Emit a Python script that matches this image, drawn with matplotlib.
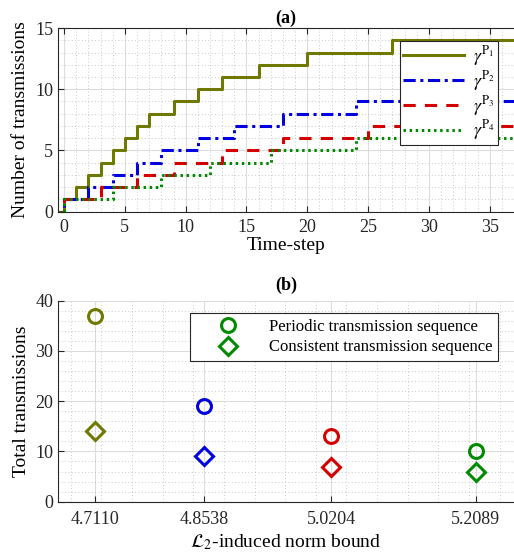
import matplotlib
matplotlib.use('Agg')
import matplotlib.pyplot as plt
from matplotlib.ticker import MultipleLocator, FixedLocator

plt.rcParams['font.family'] = ['Liberation Serif', 'DejaVu Serif']
plt.rcParams['mathtext.fontset'] = 'stix'

# (a) transmission instants and cumulative counts per sequence
t_p1 = [-1, 0, 1, 2, 3, 4, 5, 6, 7, 9, 11, 13, 16, 20, 27, 38]
n_p1 = [0, 1, 2, 3, 4, 5, 6, 7, 8, 9, 10, 11, 12, 13, 14, 14]
t_p2 = [-1, 0, 2, 4, 6, 8, 11, 14, 18, 24, 38]
n_p2 = [0, 1, 2, 3, 4, 5, 6, 7, 8, 9, 9]
t_p3 = [-1, 0, 3, 6, 9, 13, 18, 25, 38]
n_p3 = [0, 1, 2, 3, 4, 5, 6, 7, 7]
t_p4 = [-1, 0, 4, 8, 12, 17, 24, 38]
n_p4 = [0, 1, 2, 3, 4, 5, 6, 6]

# (b) totals versus norm bound
norm_bounds = [4.7110, 4.8538, 5.0204, 5.2089]
norm_labels = ['4.7110', '4.8538', '5.0204', '5.2089']
periodic_total = [37, 19, 13, 10]
consistent_total = [14, 9, 7, 6]

c_olive = '#6f7800'
c_blue = '#0000e0'
c_red = '#d40000'
c_green = '#008a00'
point_colors = [c_olive, c_blue, c_red, c_green]

fig = plt.figure(figsize=(5.14, 5.58), dpi=100)
ax1 = fig.add_axes([0.1128, 0.6206, 0.8872, 0.3292])
ax2 = fig.add_axes([0.1128, 0.1009, 0.8872, 0.3602])


def style_axes(ax):
    ax.grid(True, which='major', color='#dcdcdc', linewidth=0.8)
    ax.grid(True, which='minor', color='#b8b8b8', linestyle=(0, (1, 3)), linewidth=0.6)
    ax.set_axisbelow(True)
    ax.tick_params(which='both', direction='in', labelsize=13, colors='#262626')
    ax.tick_params(which='minor', length=0)
    ax.tick_params(which='major', length=4)
    for s in ax.spines.values():
        s.set_color('#262626')
        s.set_linewidth(0.8)


# ---- (a)
ax1.step(t_p1, n_p1, where='post', color=c_olive, lw=2.2, label=r'$\gamma^{\mathrm{P}_1}$')
ax1.step(t_p2, n_p2, where='post', color=c_blue, lw=2.2, linestyle=(0, (4, 1.5, 1, 1.5)),
         label=r'$\gamma^{\mathrm{P}_2}$')
ax1.step(t_p3, n_p3, where='post', color=c_red, lw=2.2, linestyle=(0, (4, 3)),
         label=r'$\gamma^{\mathrm{P}_3}$')
ax1.step(t_p4, n_p4, where='post', color=c_green, lw=2.2, linestyle=(0, (0.8, 1.2)),
         label=r'$\gamma^{\mathrm{P}_4}$')
ax1.set_xlim(-0.5, 37)
ax1.set_ylim(0, 15)
ax1.xaxis.set_major_locator(MultipleLocator(5))
ax1.yaxis.set_major_locator(MultipleLocator(5))
ax1.xaxis.set_minor_locator(MultipleLocator(1))
ax1.yaxis.set_minor_locator(MultipleLocator(1))
style_axes(ax1)
ax1.tick_params(top=True)
ax1.tick_params(axis='x', pad=5)
ax1.spines['right'].set_visible(False)
ax1.set_xlabel('Time-step', fontsize=14, labelpad=1)
ax1.set_ylabel('Number of transmissions', fontsize=14, labelpad=4)
ax1.set_title('(a)', fontsize=13, fontweight='bold', pad=4)
leg1 = ax1.legend(loc='upper right', bbox_to_anchor=(0.965, 0.929), fontsize=13,
                  handlelength=3.4, framealpha=1, fancybox=False, edgecolor='#262626',
                  borderpad=0.15, labelspacing=0.05, handletextpad=0.5, borderaxespad=0)
leg1.get_frame().set_linewidth(0.8)

# ---- (b)
for x, p, c, col in zip(norm_bounds, periodic_total, consistent_total, point_colors):
    ax2.plot(x, p, 'o', ms=10, mfc='none', mec=col, mew=2.2)
    ax2.plot(x, c, 'D', ms=9, mfc='none', mec=col, mew=2.2)
ax2.plot([], [], 'o', ms=10, mfc='none', mec=c_green, mew=2.2, label='Periodic transmission sequence')
ax2.plot([], [], 'D', ms=9, mfc='none', mec=c_green, mew=2.2, label='Consistent transmission sequence')
ax2.set_xlim(4.6632, 5.2589)
ax2.set_ylim(0, 40)
ax2.set_xticks(norm_bounds)
ax2.set_xticklabels(norm_labels)
ax2.xaxis.set_minor_locator(FixedLocator([4.68 + 0.04 * i for i in range(15)]))
ax2.yaxis.set_major_locator(MultipleLocator(10))
ax2.yaxis.set_minor_locator(MultipleLocator(2))
style_axes(ax2)
ax2.tick_params(axis='x', pad=7)
ax2.spines['top'].set_visible(False)
ax2.spines['right'].set_visible(False)
ax2.set_xlabel(r'$\mathcal{L}_2$-induced norm bound', fontsize=14, labelpad=3)
ax2.set_ylabel('Total transmissions', fontsize=14, labelpad=4)
ax2.set_title('(b)', fontsize=13, fontweight='bold', pad=8)
leg2 = ax2.legend(loc='upper right', bbox_to_anchor=(0.965, 0.937), fontsize=12,
                  handlelength=3.9, framealpha=1, fancybox=False, edgecolor='#262626',
                  borderpad=0.35, labelspacing=0.25, handletextpad=0.5, borderaxespad=0)
leg2.get_frame().set_linewidth(0.8)

fig.savefig('out.png', dpi=100)
